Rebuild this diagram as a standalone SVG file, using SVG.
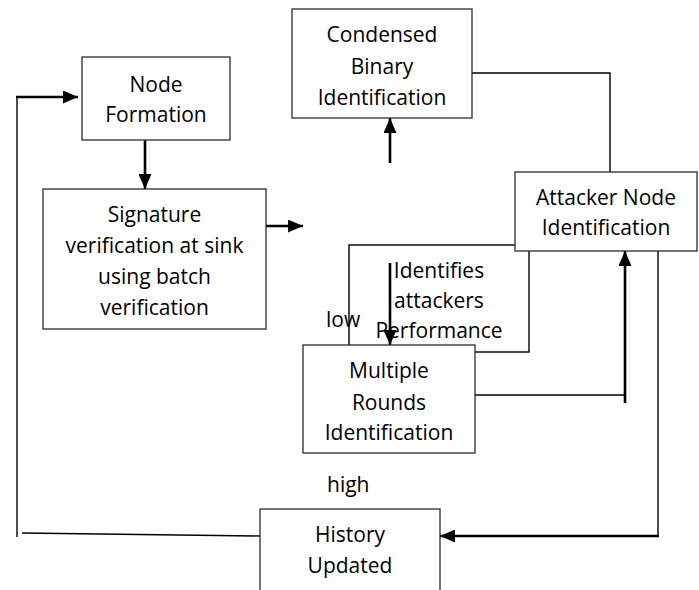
<svg xmlns="http://www.w3.org/2000/svg" width="699" height="590" viewBox="0 0 699 590">
<style>
.box{fill:#fff;stroke:#2b2b2b;stroke-width:1.3}
.t{font-family:"Open Sans","Noto Sans",sans-serif;font-size:21px;fill:#000;text-anchor:middle}
.tl{font-family:"Open Sans","Noto Sans",sans-serif;font-size:21px;fill:#000}
.ln{fill:none;stroke:#000;stroke-width:1.4}
.ar{fill:none;stroke:#000;stroke-width:2.6;marker-end:url(#ah)}
.th{fill:none;stroke:#000;stroke-width:2.6}
</style>
<defs>
<marker id="ah" markerUnits="userSpaceOnUse" markerWidth="16" markerHeight="13" refX="15" refY="6.5" orient="auto">
<path d="M0,0 L15,6.5 L0,13 z" fill="#000"/>
</marker>
</defs>
<g id="connectors">
<rect class="ln" x="349" y="245" width="180" height="107"/>
<line class="ln" x1="260" y1="536" x2="22" y2="533"/>
<line class="ln" x1="17" y1="537" x2="17" y2="96"/>
<line class="ar" x1="16" y1="97" x2="78" y2="97"/>
<line class="ar" x1="145" y1="140" x2="145" y2="189"/>
<line class="ar" x1="266" y1="226" x2="303" y2="226"/>
<line class="ar" x1="390" y1="163" x2="390" y2="118"/>
<polyline class="ln" points="472,73 610,73 610,172"/>
<line class="ar" x1="390" y1="263" x2="390" y2="345"/>
<line class="ln" x1="475" y1="395" x2="625" y2="395"/>
<line class="ar" x1="625" y1="403" x2="625" y2="251"/>
<line class="ln" x1="658" y1="251" x2="658" y2="537"/>
<line class="ar" x1="659" y1="536" x2="440" y2="536"/>
</g>
<g id="node-formation">
<rect class="box" x="82" y="57" width="148" height="83"/>
<text class="t" x="156" y="92">Node</text>
<text class="t" x="156" y="122">Formation</text>
</g>
<g id="signature">
<rect class="box" x="43" y="189" width="223" height="140"/>
<text class="t" x="154.5" y="222">Signature</text>
<text class="t" x="154.5" y="253">verification at sink</text>
<text class="t" x="154.5" y="284">using batch</text>
<text class="t" x="154.5" y="315">verification</text>
</g>
<g id="condensed">
<rect class="box" x="292" y="9" width="180" height="109"/>
<text class="t" x="382" y="42">Condensed</text>
<text class="t" x="382" y="74">Binary</text>
<text class="t" x="382" y="105">Identification</text>
</g>
<g id="attacker">
<rect class="box" x="515" y="172" width="182" height="79"/>
<text class="t" x="606" y="205">Attacker Node</text>
<text class="t" x="606" y="235">Identification</text>
</g>
<g id="identifies">
<text class="t" x="439" y="278">Identifies</text>
<text class="t" x="439" y="308">attackers</text>
<text class="t" x="439" y="338">Performance</text>
</g>
<g id="multiple">
<rect class="box" x="303" y="345" width="172" height="108"/>
<text class="t" x="389" y="378">Multiple</text>
<text class="t" x="389" y="410">Rounds</text>
<text class="t" x="389" y="440">Identification</text>
</g>
<g id="history">
<rect class="box" x="260" y="509" width="180" height="100"/>
<text class="t" x="350" y="542">History</text>
<text class="t" x="350" y="573">Updated</text>
</g>
<g id="labels">
<text class="tl" x="326" y="327">low</text>
<text class="tl" x="327" y="492">high</text>
</g>
</svg>
